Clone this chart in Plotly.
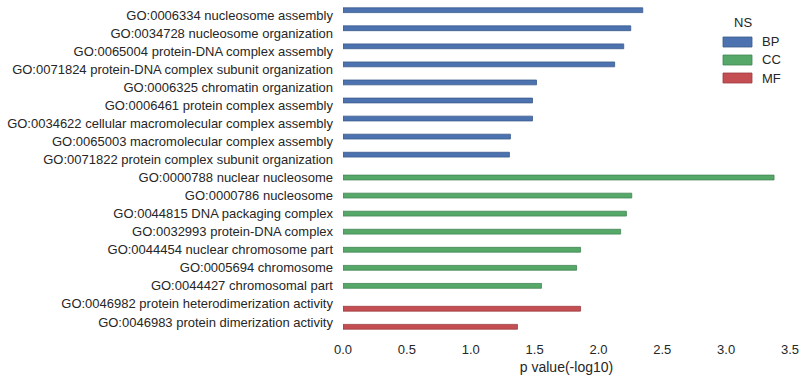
import plotly.graph_objects as go

bp_terms = [
    "GO:0006334 nucleosome assembly",
    "GO:0034728 nucleosome organization",
    "GO:0065004 protein-DNA complex assembly",
    "GO:0071824 protein-DNA complex subunit organization",
    "GO:0006325 chromatin organization",
    "GO:0006461 protein complex assembly",
    "GO:0034622 cellular macromolecular complex assembly",
    "GO:0065003 macromolecular complex assembly",
    "GO:0071822 protein complex subunit organization",
]
bp_vals = [2.347, 2.253, 2.198, 2.127, 1.515, 1.484, 1.484, 1.311, 1.303]

cc_terms = [
    "GO:0000788 nuclear nucleosome",
    "GO:0000786 nucleosome",
    "GO:0044815 DNA packaging complex",
    "GO:0032993 protein-DNA complex",
    "GO:0044454 nuclear chromosome part",
    "GO:0005694 chromosome",
    "GO:0044427 chromosomal part",
]
cc_vals = [3.375, 2.261, 2.219, 2.174, 1.860, 1.829, 1.554]

mf_terms = [
    "GO:0046982 protein heterodimerization activity",
    "GO:0046983 protein dimerization activity",
]
mf_vals = [1.860, 1.366]

ns_names = ["BP", "CC", "MF"]
colors = ["#4C72B0", "#55A868", "#C44E52"]
edges = ["#3b5a8c", "#438553", "#9c3e41"]

all_terms = bp_terms + cc_terms + mf_terms
W, H = 805, 379
L, R, T, B = 343, 15, 6, 48
text_col = "#262626"
font_fam = "Liberation Sans, Arial, DejaVu Sans, sans-serif"

fig = go.Figure()
for name, terms, vals, c, e in zip(ns_names, [bp_terms, cc_terms, mf_terms],
                                   [bp_vals, cc_vals, mf_vals], colors, edges):
    fig.add_trace(go.Bar(
        x=vals, y=terms, orientation="h", name=name, offsetgroup=name,
        marker=dict(color=c, line=dict(color=e, width=0.8)),
        showlegend=False,
    ))

# manual legend (matplotlib-like patches)
pw = W - L - R
ph = H - T - B
def px_x(p):
    return (p - L) / pw
def px_y(p):
    return 1 - (p - T) / ph

shapes = []
annotations = [dict(text="NS", x=px_x(743), y=px_y(23), xref="paper", yref="paper",
                    showarrow=False, font=dict(size=13, color=text_col, family=font_fam),
                    xanchor="center", yanchor="middle")]
for i, (name, c, e) in enumerate(zip(ns_names, colors, edges)):
    yc = 42 + 18 * i
    shapes.append(dict(type="rect", xref="paper", yref="paper",
                       x0=px_x(723), x1=px_x(752), y0=px_y(yc - 5), y1=px_y(yc + 5),
                       fillcolor=c, line=dict(color=e, width=0.8)))
    annotations.append(dict(text=name, x=px_x(760), y=px_y(yc), xref="paper", yref="paper",
                            showarrow=False, xanchor="left", yanchor="middle",
                            font=dict(size=13, color=text_col, family=font_fam)))

fig.update_layout(
    width=W, height=H,
    margin=dict(l=L, r=R, t=T, b=B, pad=0, autoexpand=False),
    paper_bgcolor="white", plot_bgcolor="white",
    barmode="group", bargap=0.2, bargroupgap=0,
    font=dict(family=font_fam, size=13, color=text_col),
    shapes=shapes, annotations=annotations,
    xaxis=dict(range=[0, 3.5], tickvals=[0, 0.5, 1, 1.5, 2, 2.5, 3, 3.5],
               ticktext=["0.0", "0.5", "1.0", "1.5", "2.0", "2.5", "3.0", "3.5"],
               showgrid=False, zeroline=False, showline=False, ticks="",
               ticklabelstandoff=9, automargin=False,
               title=dict(text="p value(-log10)", font=dict(size=14, color=text_col), standoff=6),
               tickfont=dict(size=13, color=text_col)),
    yaxis=dict(type="category", categoryorder="array", categoryarray=all_terms,
               range=[len(all_terms) - 0.5, -0.5], automargin=False,
               showgrid=False, zeroline=False, showline=False, ticks="",
               ticklabelstandoff=9, tickfont=dict(size=13, color=text_col)),
)

fig.write_html("out.html", config={"displayModeBar": False},
               post_script="document.body.style.margin='0';document.body.style.overflow='hidden';")
